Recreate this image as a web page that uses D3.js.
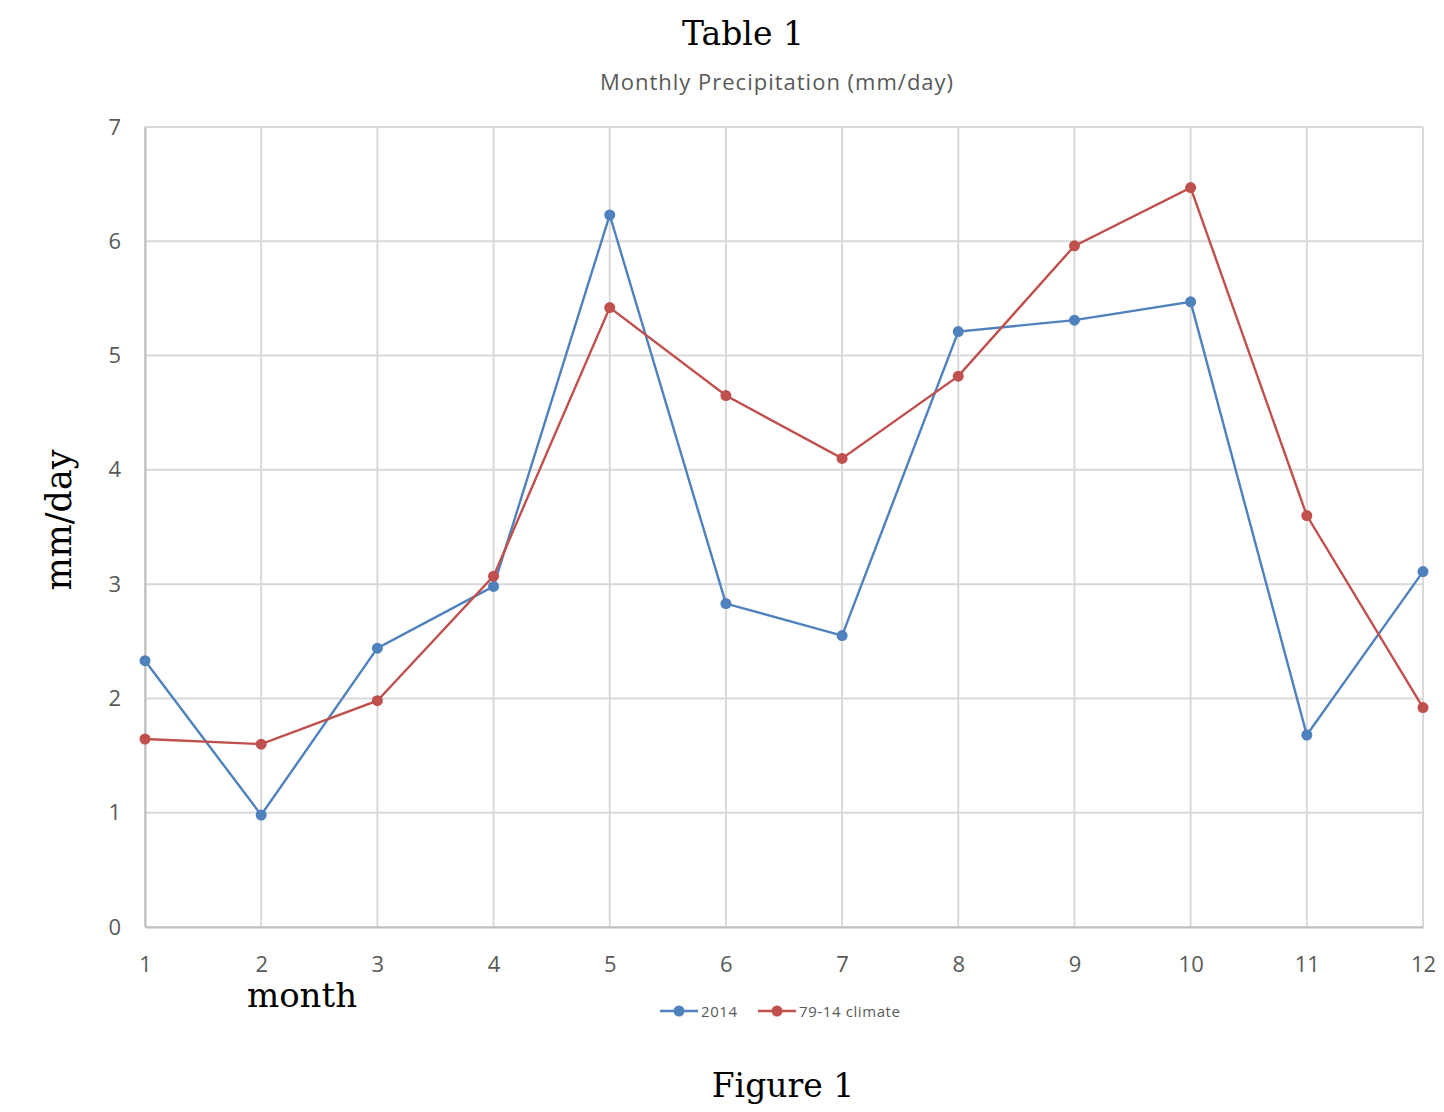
<!DOCTYPE html>
<html>
<head>
<meta charset="utf-8">
<script src="https://cdn.jsdelivr.net/npm/d3@7"></script>
<style>
  body { margin: 0; background: #fff; }
  .tick text { font-family: "Open Sans", "Liberation Sans", sans-serif; fill: #595959; }
</style>
</head>
<body>
<script>
var months = [1, 2, 3, 4, 5, 6, 7, 8, 9, 10, 11, 12];
var yTicks = [0, 1, 2, 3, 4, 5, 6, 7];
var precip2014 = [2.33, 0.98, 2.44, 2.98, 6.23, 2.83, 2.55, 5.21, 5.31, 5.47, 1.68, 3.11];
var climate7914 = [1.645, 1.60, 1.98, 3.07, 5.42, 4.65, 4.10, 4.82, 5.96, 6.47, 3.60, 1.92];
var seriesNames = ["2014", "79-14 climate"];

var W = 1444, H = 1112;
var margin = {top: 127, right: 21, bottom: 185, left: 145};
var width = W - margin.left - margin.right,
    height = H - margin.top - margin.bottom;

var colors = ["#4f81bd", "#c0504d"];
var serif = "'DejaVu Serif', 'Liberation Serif', serif";
var sans = "'Open Sans', 'Liberation Sans', sans-serif";

var svg = d3.select("body")
    .append("svg")
    .attr("width", W)
    .attr("height", H);

var g = svg.append("g")
    .attr("transform", "translate(" + margin.left + "," + margin.top + ")");

var xScale = d3.scaleLinear().domain([1, 12]).range([0, width]),
    yScale = d3.scaleLinear().domain([0, 7]).range([height, 0]);

// gridlines
g.append("g")
  .selectAll("line")
  .data(yTicks)
  .enter().append("line")
    .attr("x1", 0).attr("x2", width)
    .attr("y1", function (d) { return yScale(d); })
    .attr("y2", function (d) { return yScale(d); })
    .attr("stroke", "#d9d9d9").attr("stroke-width", 2);

g.append("g")
  .selectAll("line")
  .data(months)
  .enter().append("line")
    .attr("y1", 0).attr("y2", height)
    .attr("x1", function (d) { return xScale(d); })
    .attr("x2", function (d) { return xScale(d); })
    .attr("stroke", "#d9d9d9").attr("stroke-width", 2);

// axes
var xAxis = g.append("g")
  .attr("transform", "translate(0," + height + ")")
  .call(d3.axisBottom(xScale).tickValues(months).tickSize(0).tickPadding(29).tickFormat(d3.format("d")));
xAxis.select(".domain").attr("stroke", "#bfbfbf").attr("stroke-width", 2);
xAxis.selectAll("text").style("font-size", "22px");

var yAxis = g.append("g")
  .call(d3.axisLeft(yScale).tickValues(yTicks).tickSize(0).tickPadding(24).tickFormat(d3.format("d")));
yAxis.select(".domain").attr("stroke", "#bfbfbf").attr("stroke-width", 2);
yAxis.selectAll("text").style("font-size", "22px");

// lines
var line = d3.line()
    .x(function (d, i) { return xScale(months[i]); })
    .y(function (d) { return yScale(d); });

[precip2014, climate7914].forEach(function (vals, k) {
  g.append("path")
    .datum(vals)
    .attr("d", line)
    .attr("fill", "none")
    .attr("stroke", colors[k])
    .attr("stroke-width", 2.4);
  g.selectAll("circle.s" + k)
    .data(vals)
    .enter().append("circle")
      .attr("class", "s" + k)
      .attr("cx", function (d, i) { return xScale(months[i]); })
      .attr("cy", function (d) { return yScale(d); })
      .attr("r", 5.5)
      .attr("fill", colors[k]);
});

// titles
svg.append("text")
  .attr("x", 743).attr("y", 45)
  .attr("text-anchor", "middle")
  .style("font-family", serif).style("font-size", "33px")
  .text("Table 1");

svg.append("text")
  .attr("x", 777).attr("y", 90)
  .attr("text-anchor", "middle")
  .style("font-family", sans)
  .style("font-size", "22px").style("letter-spacing", "1px").style("fill", "#595959")
  .text("Monthly Precipitation (mm/day)");

svg.append("text")
  .attr("transform", "translate(71,520) rotate(-90)")
  .attr("text-anchor", "middle")
  .style("font-family", serif).style("font-size", "35px")
  .text("mm/day");

svg.append("text")
  .attr("x", 302).attr("y", 1007)
  .attr("text-anchor", "middle")
  .style("font-family", serif).style("font-size", "34px")
  .text("month");

svg.append("text")
  .attr("x", 783).attr("y", 1097)
  .attr("text-anchor", "middle")
  .style("font-family", serif).style("font-size", "33px")
  .text("Figure 1");

// legend
var legendX = [660, 758];
seriesNames.forEach(function (name, k) {
  var lg = svg.append("g").attr("transform", "translate(" + legendX[k] + ",1011)");
  lg.append("line").attr("x1", 0).attr("x2", 38).attr("y1", 0).attr("y2", 0)
    .attr("stroke", colors[k]).attr("stroke-width", 2.4);
  lg.append("circle").attr("cx", 19).attr("cy", 0).attr("r", 5.5).attr("fill", colors[k]);
  lg.append("text").attr("x", 41).attr("y", 5.5)
    .style("font-family", sans)
    .style("font-size", "15px").style("letter-spacing", "0.6px").style("fill", "#595959")
    .text(name);
});
</script>
</body>
</html>
